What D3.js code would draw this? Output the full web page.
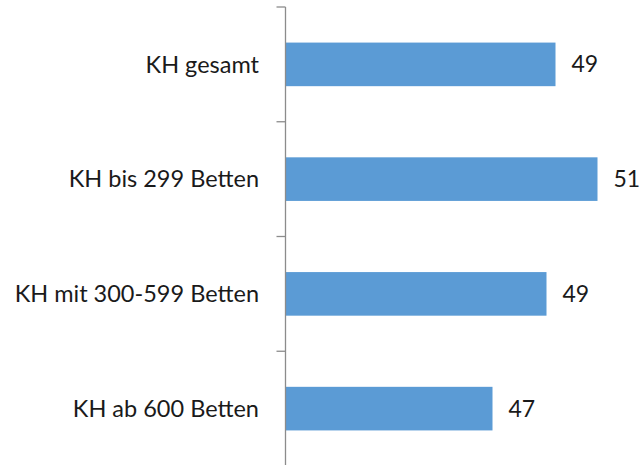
<!DOCTYPE html>
<html>
<head>
<meta charset="utf-8">
<script src="https://cdn.jsdelivr.net/npm/d3@7"></script>
<style>
  body { margin: 0; background: #fff; }
  text { font-family: Lato, "Open Sans", sans-serif; fill: #1a1a1a; }
</style>
</head>
<body>
<svg id="chart" width="642" height="465"></svg>
<script>
// Kategorien und Werte (Werte aus den Balkenlängen geschätzt)
const categories = ["KH gesamt", "KH bis 299 Betten", "KH mit 300-599 Betten", "KH ab 600 Betten"];
const values = [49.4, 50.8, 49.1, 47.3];

const width = 642, height = 465;
const axisX = 285.5;
const plotTop = 7, plotBottom = 466;

const svg = d3.select("#chart");

// x-Achse startet nicht bei 0 (keine Achse sichtbar)
const x = d3.scaleLinear().domain([40.4, 52]).range([axisX, axisX + 348]);

const y = d3.scaleBand()
    .domain(categories)
    .range([plotTop, plotBottom])
    .paddingInner(0.62)
    .paddingOuter(0.31);

// Balken
svg.append("g").selectAll("rect")
    .data(values)
    .enter().append("rect")
    .attr("x", axisX)
    .attr("y", (d, i) => y(categories[i]))
    .attr("width", d => x(d) - axisX)
    .attr("height", y.bandwidth())
    .attr("fill", "#5b9bd5");

// Achse mit Teilstrichen zwischen den Kategorien
const axis = svg.append("g").attr("stroke", "#8c8c8c").attr("stroke-width", 1.3);
axis.append("line")
    .attr("x1", axisX).attr("x2", axisX)
    .attr("y1", plotTop).attr("y2", height);
const boundaries = d3.range(categories.length + 1).map(i => plotTop + i * y.step());
axis.selectAll("line.tick")
    .data(boundaries)
    .enter().append("line")
    .attr("class", "tick")
    .attr("x1", axisX - 9).attr("x2", axisX)
    .attr("y1", d => d).attr("y2", d => d);

// Kategorienbeschriftungen
svg.append("g").selectAll("text")
    .data(categories)
    .enter().append("text")
    .attr("x", 259)
    .attr("y", d => y(d) + y.bandwidth() / 2)
    .attr("dy", "0.35em")
    .attr("text-anchor", "end")
    .style("font-size", "23.5px")
    .text(d => d);

// Wertebeschriftungen
svg.append("g").selectAll("text")
    .data(values)
    .enter().append("text")
    .attr("x", d => x(d) + 16)
    .attr("y", (d, i) => y(categories[i]) + y.bandwidth() / 2)
    .attr("dy", "0.35em")
    .style("font-size", "23px")
    .text(d => d3.format(".0f")(d));
</script>
</body>
</html>
